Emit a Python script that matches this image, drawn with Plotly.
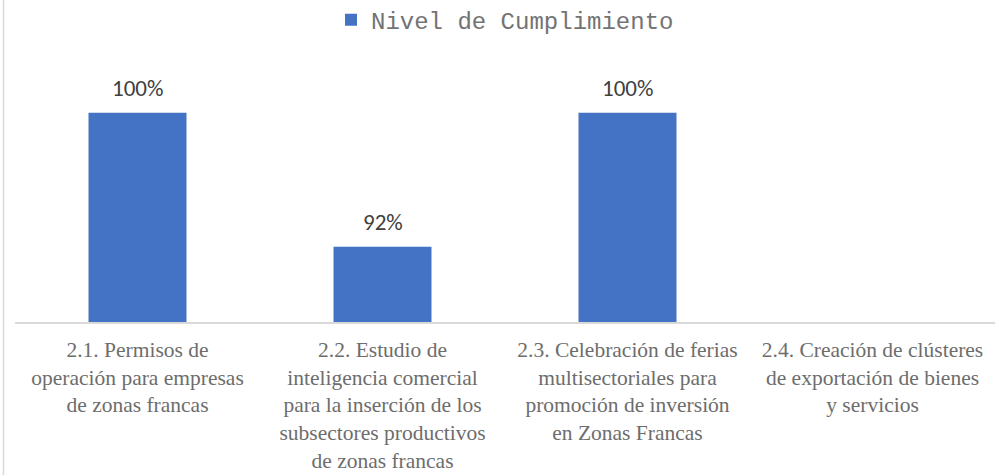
import plotly.graph_objects as go

categories = [
    "2.1. Permisos de<br>operación para empresas<br>de zonas francas",
    "2.2. Estudio de<br>inteligencia comercial<br>para la inserción de los<br>subsectores productivos<br>de zonas francas",
    "2.3. Celebración de ferias<br>multisectoriales para<br>promoción de inversión<br>en Zonas Francas",
    "2.4. Creación de clústeres<br>de exportación de bienes<br>y servicios",
]
cumplimiento = [1.00, 0.92, 1.00, None]
series_name = "Nivel de Cumplimiento"
bar_color = "#4472C4"

fig = go.Figure()
fig.add_trace(go.Bar(
    x=categories,
    y=cumplimiento,
    name=series_name,
    marker=dict(color=bar_color, line=dict(width=0)),
    showlegend=True,
    hoverinfo="skip",
))

for cat, val in zip(categories, cumplimiento):
    if val is None:
        continue
    fig.add_annotation(
        x=cat, y=val, xref="x", yref="y",
        text=f"{val:.0%}",
        showarrow=False,
        yanchor="middle",
        yshift=25,
        font=dict(family="Carlito, Lato, sans-serif", size=23, color="#404040"),
    )

# left chart border
fig.add_shape(type="line", xref="paper", yref="paper",
              x0=-0.0117, x1=-0.0117, y0=-1, y1=2,
              line=dict(color="#D9D9D9", width=1.5))

fig.update_layout(
    width=1000, height=475,
    margin=dict(l=15, r=5, t=50, b=153, autoexpand=False),
    paper_bgcolor="white",
    plot_bgcolor="white",
    bargap=0.6,
    showlegend=True,
    legend=dict(
        orientation="h",
        x=0.5, xanchor="center",
        y=1.11, yanchor="middle",
        font=dict(family="Liberation Mono, Courier New, monospace", size=24, color="#737373"),
        itemwidth=30,
    ),
    xaxis=dict(
        automargin=False,
        showline=True, linecolor="#D9D9D9", linewidth=1.5,
        showgrid=False, ticks="",
        tickfont=dict(family="Liberation Serif, Times New Roman, serif", size=21.5, color="#6d6d6d"),
        tickangle=0,
        ticklabelstandoff=7,
    ),
    yaxis=dict(
        visible=False,
        automargin=False,
        range=[0.875, 1.0374],
    ),
)

fig.write_html(
    "out.html",
    config={"displayModeBar": False},
    post_script="document.body.style.margin='0';document.body.style.overflow='hidden';",
)
